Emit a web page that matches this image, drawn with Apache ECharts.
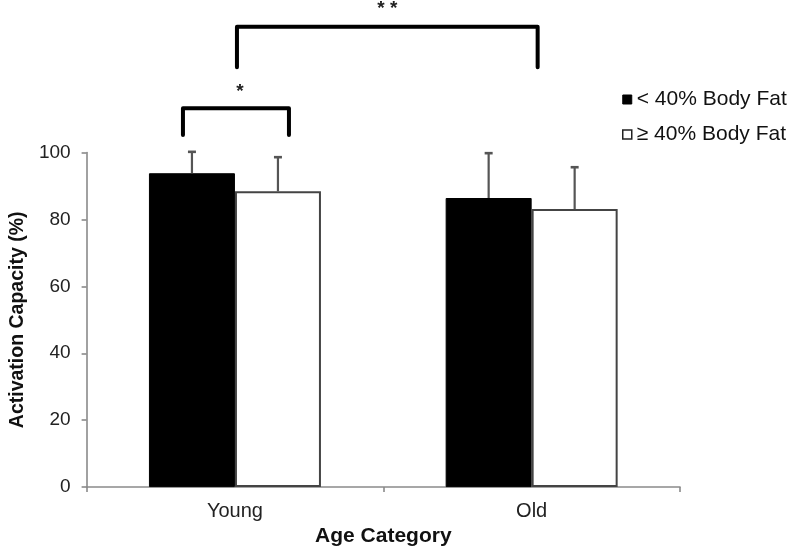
<!DOCTYPE html>
<html>
<head>
<meta charset="utf-8">
<script src="https://cdn.jsdelivr.net/npm/echarts@6/dist/echarts.min.js"></script>
<style>
html,body{margin:0;padding:0;background:#fff;}
#chart{width:787px;height:552px;}
</style>
</head>
<body>
<div id="chart"></div>
<script>
// ---- data ----
const categories = ['Young', 'Old'];
const seriesNames = ['< 40% Body Fat', '\u2265 40% Body Fat'];
const leanMean = [93.8, 86.4];
const leanSD = [6.4, 13.4];
const obeseMean = [88.4, 83.1];
const obeseSD = [10.2, 12.5];
const yMin = 0, yMax = 100, yStep = 20;
// significance brackets (category index, value heights)
const bracketFrom = [0, 0];
const bracketTo = [0, 1];
const bracketLow = [105.2, 125.5];
const bracketHigh = [113.2, 137.6];
const bracketLabels = ['*', '* *'];

// ---- layout / style ----
const BAR_W = 86;
const FONT = 'Liberation Sans, Arial, sans-serif';
const AXIS_COLOR = '#8a8a8a';
const bracketOffsets = [[-52, 54], [2, 6]]; // pixel offsets from category centres
const labelLift = [17, 18];
const labelShift = [4, 0];

const chart = echarts.init(document.getElementById('chart'), null, {renderer: 'canvas'});

function errorRenderer(offsetSign) {
  return function (params, api) {
    const c = api.value(0), m = api.value(1), s = api.value(2);
    const p0 = api.coord([c, m]);
    const p1 = api.coord([c, m + s]);
    const x = p0[0] + offsetSign * BAR_W / 2;
    return {
      type: 'group',
      children: [
        {type: 'line', shape: {x1: x, y1: p0[1], x2: x, y2: p1[1]},
         style: {stroke: '#555', lineWidth: 2.2}},
        {type: 'line', shape: {x1: x - 4, y1: p1[1], x2: x + 4, y2: p1[1]},
         style: {stroke: '#555', lineWidth: 2.6}}
      ]
    };
  };
}

const option = {
  animation: false,
  backgroundColor: '#fff',
  textStyle: {fontFamily: FONT},
  grid: {left: 84, right: 107, top: 152.5, bottom: 62.5, containLabel: false},
  legend: {
    orient: 'vertical',
    left: 617, top: 84,
    itemWidth: 9, itemHeight: 9, itemGap: 14,
    icon: 'rect',
    textStyle: {fontSize: 21, color: '#111', fontFamily: FONT},
    data: [
      {name: seriesNames[0], itemStyle: {color: '#000', borderColor: '#000', borderWidth: 1}},
      {name: seriesNames[1], itemStyle: {color: '#fff', borderColor: '#222', borderWidth: 1.5}}
    ]
  },
  xAxis: {
    type: 'category',
    data: categories,
    name: 'Age Category',
    nameLocation: 'middle',
    nameGap: 37,
    nameTextStyle: {fontSize: 21, fontWeight: 'bold', color: '#111', fontFamily: FONT},
    axisLine: {lineStyle: {color: AXIS_COLOR, width: 1.6}},
    axisTick: {show: true, length: 5, lineStyle: {color: AXIS_COLOR, width: 1.6}},
    axisLabel: {fontSize: 20, color: '#222', margin: 14, fontFamily: FONT},
    splitLine: {show: false}
  },
  yAxis: {
    type: 'value',
    min: yMin, max: yMax, interval: yStep,
    name: 'Activation Capacity (%)',
    nameLocation: 'middle',
    nameRotate: 90,
    nameGap: 58,
    nameTextStyle: {fontSize: 19.5, fontWeight: 'bold', color: '#111', fontFamily: FONT},
    axisLine: {show: true, lineStyle: {color: AXIS_COLOR, width: 1.6}},
    axisTick: {show: true, length: 5, lineStyle: {color: AXIS_COLOR, width: 1.6}},
    axisLabel: {fontSize: 19, color: '#222', margin: 16, fontFamily: FONT},
    splitLine: {show: false}
  },
  series: [
    {
      name: seriesNames[0], type: 'bar', data: leanMean,
      barWidth: BAR_W, barGap: '0%',
      itemStyle: {color: '#000', borderColor: '#000', borderWidth: 1}
    },
    {
      name: seriesNames[1], type: 'bar', data: obeseMean,
      barWidth: BAR_W, barGap: '0%',
      itemStyle: {color: '#fff', borderColor: '#444', borderWidth: 2}
    },
    {
      type: 'custom', name: 'errLean', silent: true, z: 5,
      renderItem: errorRenderer(-1),
      data: categories.map((c, i) => [i, leanMean[i], leanSD[i]])
    },
    {
      type: 'custom', name: 'errObese', silent: true, z: 5,
      renderItem: errorRenderer(1),
      data: categories.map((c, i) => [i, obeseMean[i], obeseSD[i]])
    }
  ]
};
chart.setOption(option);

// brackets drawn from axis coordinates
const graphics = [];
for (let i = 0; i < bracketLabels.length; i++) {
  const xa = chart.convertToPixel({xAxisIndex: 0}, bracketFrom[i]) + bracketOffsets[i][0];
  const xb = chart.convertToPixel({xAxisIndex: 0}, bracketTo[i]) + bracketOffsets[i][1];
  const yl = chart.convertToPixel({yAxisIndex: 0}, bracketLow[i]);
  const yh = chart.convertToPixel({yAxisIndex: 0}, bracketHigh[i]);
  graphics.push({
    type: 'polyline',
    shape: {points: [[xa, yl], [xa, yh], [xb, yh], [xb, yl]]},
    style: {stroke: '#000', lineWidth: 4, fill: null, lineCap: 'round', lineJoin: 'round'}
  });
  graphics.push({
    type: 'text',
    x: (xa + xb) / 2 + labelShift[i],
    y: yh - labelLift[i],
    style: {text: bracketLabels[i], font: 'bold 19px ' + FONT, fill: '#222',
            textAlign: 'center', textVerticalAlign: 'middle'}
  });
}
chart.setOption({graphic: graphics});
</script>
</body>
</html>
